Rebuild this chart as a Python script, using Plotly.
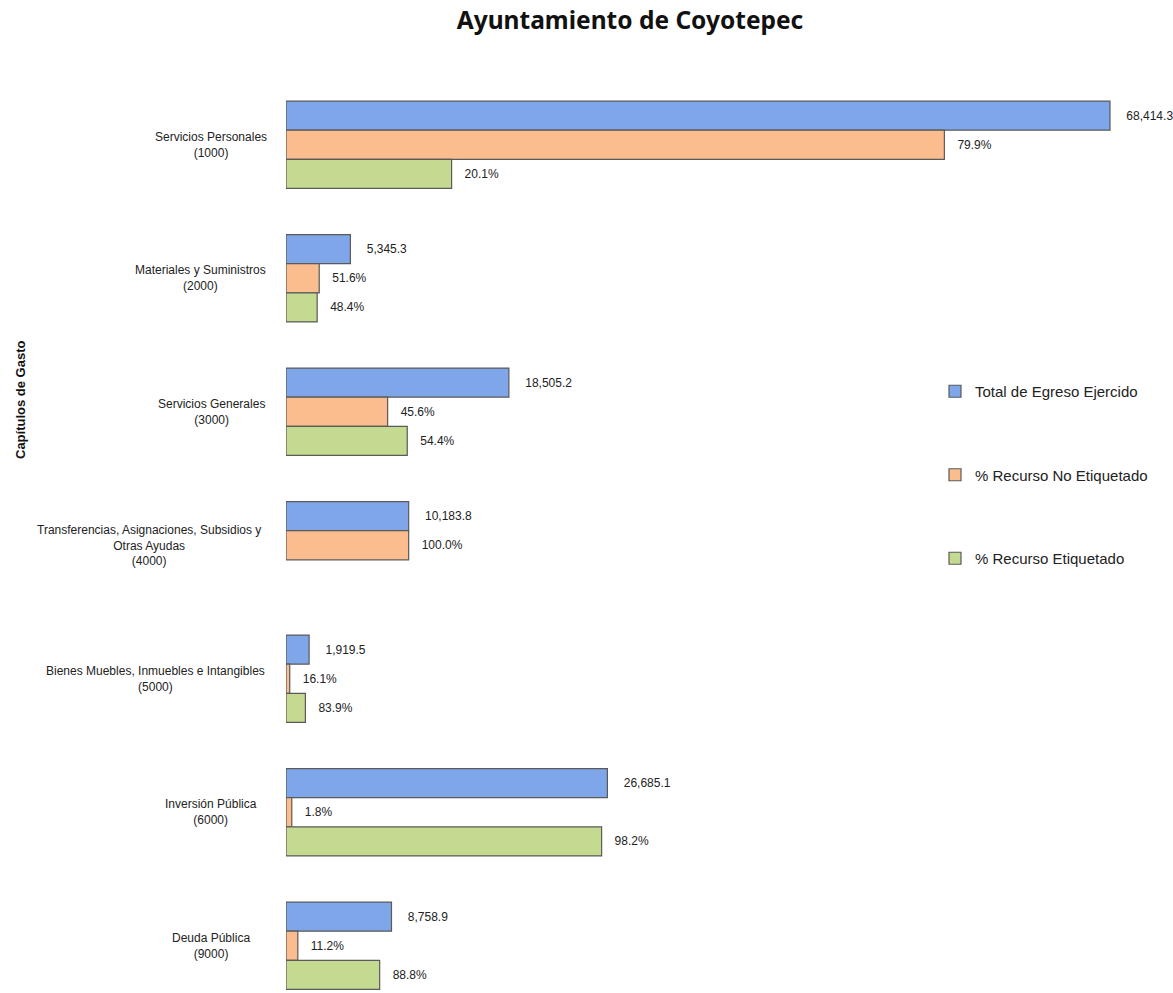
import plotly.graph_objects as go

categories = [
    "Servicios Personales<br>(1000)",
    "Materiales y Suministros<br>(2000)",
    "Servicios Generales<br>(3000)",
    "Transferencias, Asignaciones, Subsidios y<br>Otras Ayudas<br>(4000)",
    "Bienes Muebles, Inmuebles e Intangibles<br>(5000)",
    "Inversión Pública<br>(6000)",
    "Deuda Pública<br>(9000)",
]
total_egreso = [68414.3, 5345.3, 18505.2, 10183.8, 1919.5, 26685.1, 8758.9]
pct_no_etiquetado = [79.9, 51.6, 45.6, 100.0, 16.1, 1.8, 11.2]
pct_etiquetado = [20.1, 48.4, 54.4, None, 83.9, 98.2, 88.8]

series_names = ["Total de Egreso Ejercido", "% Recurso No Etiquetado", "% Recurso Etiquetado"]

W, H = 1173, 993
L, R, T, B = 286, 0, 78, 0
pw = W - L - R
ph = H - T - B

idx = list(range(len(categories)))

amt_no = [t * p / 100 for t, p in zip(total_egreso, pct_no_etiquetado)]
amt_si = [t * p / 100 if p is not None else None for t, p in zip(total_egreso, pct_etiquetado)]

txt_total = ["    " + f"{v:,.1f}" for v in total_egreso]
txt_no = ["   " + f"{p:.1f}%" for p in pct_no_etiquetado]
txt_si = ["   " + f"{p:.1f}%" if p is not None else "" for p in pct_etiquetado]

colors = ["#7ea6e8", "#fbbd8d", "#c4da90"]
line_col = "#5a5a5a"

fig = go.Figure()
for name, xs, txt, col in [
    (series_names[0], total_egreso, txt_total, colors[0]),
    (series_names[1], amt_no, txt_no, colors[1]),
    (series_names[2], amt_si, txt_si, colors[2]),
]:
    fig.add_trace(go.Bar(
        y=idx, x=xs, orientation="h", name=name, legendgroup=name,
        text=txt, textposition="outside", cliponaxis=False,
        textfont=dict(family="Arial, Liberation Sans", size=12, color="#222"),
        marker=dict(color=col, line=dict(color=line_col, width=1.2)),
        hoverinfo="skip",
    ))

# x scale: 68414 -> 824 px
px_per_unit = 824 / 68414.3
xmax = pw / px_per_unit
band = 133.5
y_top = -0.5
y_bottom = -0.5 + ph / band

def px_to_paper_x(px):
    return (px - L) / pw

def py_to_paper_y(py):
    return 1 - (py - T) / ph

annotations = []
for i, cat in enumerate(categories):
    lines = cat.split("<br>")
    w = max(len(s) for s in lines) * 6.0
    cx = min(211, 272 - w / 2)
    annotations.append(dict(
        x=px_to_paper_x(cx), xref="paper", y=i, yref="y",
        text=cat, showarrow=False, xanchor="center", yanchor="middle", align="center",
        font=dict(family="Arial, Liberation Sans", size=12, color="#222"),
    ))
annotations.append(dict(
    x=px_to_paper_x(20), xref="paper", y=py_to_paper_y(400), yref="paper",
    text="<b>Capítulos de Gasto</b>", textangle=-90, showarrow=False,
    xanchor="center", yanchor="middle",
    font=dict(family="Arial, Liberation Sans", size=13, color="#111"),
))

fig.update_layout(
    width=W, height=H,
    margin=dict(l=L, r=R, t=T, b=B, autoexpand=False),
    paper_bgcolor="white", plot_bgcolor="white",
    barmode="group", bargap=0.345, bargroupgap=0.0,
    title=dict(text="<b>Ayuntamiento de Coyotepec</b>", x=630 / W, xanchor="center",
               y=1 - 20 / H, yanchor="middle",
               font=dict(family="Noto Sans", size=24.5, color="#111")),
    xaxis=dict(range=[0, xmax], visible=False, showgrid=False, zeroline=False),
    yaxis=dict(range=[y_bottom, y_top], showticklabels=False, showgrid=False,
               zeroline=False, showline=False, ticks=""),
    showlegend=True,
    legend=dict(x=px_to_paper_x(935), xanchor="left", y=py_to_paper_y(375), yanchor="top",
                tracegroupgap=61, itemwidth=30, bgcolor="rgba(0,0,0,0)",
                font=dict(family="Arial, Liberation Sans", size=15, color="#222")),
    annotations=annotations,
)

fig.write_html("out.html", config={"displayModeBar": False},
               post_script="document.body.style.margin='0';document.body.style.overflow='hidden';")
